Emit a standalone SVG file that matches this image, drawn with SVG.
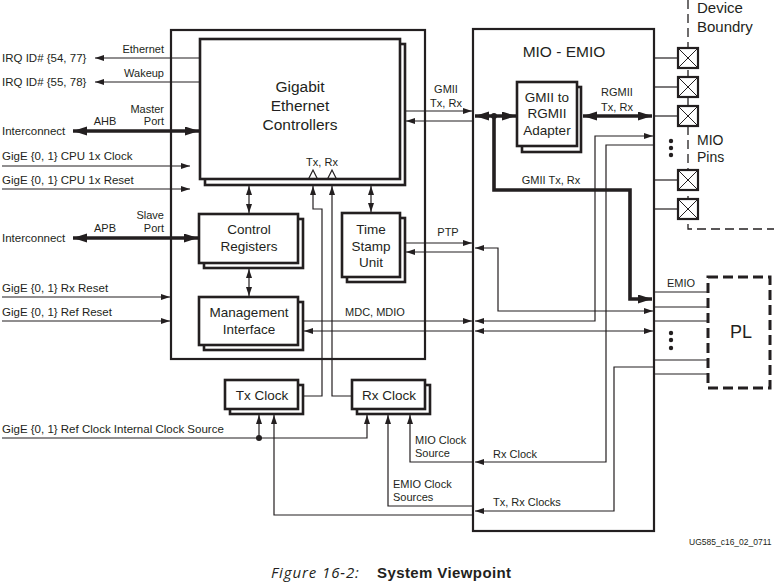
<svg xmlns="http://www.w3.org/2000/svg" width="774" height="584" viewBox="0 0 774 584">
<defs>
<style>
text{font-family:"Liberation Sans",Arial,sans-serif;fill:#231f20}
.s{font-size:11px}
.l{font-size:11.5px}
.b{font-size:13.5px}
.big{font-size:15.5px}
.box{fill:#fff;stroke:#231f20;stroke-width:2.6}
.frame{fill:none;stroke:#231f20;stroke-width:2.2}
.ln{fill:none;stroke:#231f20;stroke-width:1.2}
.thk{fill:none;stroke:#231f20;stroke-width:3.6}
.dash{fill:none;stroke:#231f20;stroke-width:1.3;stroke-dasharray:9 5}
.pl{fill:none;stroke:#231f20;stroke-width:3;stroke-dasharray:10 5}
.pin{fill:#fff;stroke:#231f20;stroke-width:2.2}
.x{stroke:#231f20;stroke-width:1}
.m{text-anchor:middle}
.e{text-anchor:end}
</style>
<marker id="a" markerUnits="userSpaceOnUse" markerWidth="10" markerHeight="7" refX="9" refY="3" orient="auto-start-reverse"><path d="M0,0 L9,3 L0,6 z" fill="#231f20"/></marker>
<marker id="A" markerUnits="userSpaceOnUse" markerWidth="15" markerHeight="10" refX="14" refY="4.5" orient="auto-start-reverse"><path d="M0,0 L14,4.5 L0,9 z" fill="#231f20"/></marker>
</defs>
<rect width="774" height="584" fill="#fff"/>

<g id="gige-frame"><rect class="frame" x="171" y="30" width="254" height="329"/></g>
<g id="mio-emio"><rect class="frame" x="473" y="29" width="181" height="502"/>
<text class="big m" x="564" y="57">MIO - EMIO</text></g>

<g id="device-boundary">
<path class="dash" d="M688,0 V229 H774"/>
<text class="big" x="697" y="13" style="font-size:15px">Device</text>
<text class="big" x="697" y="32" style="font-size:15px">Boundry</text>
</g>

<g id="connectors">
<line class="ln" x1="200" y1="58" x2="95" y2="58" marker-end="url(#a)"/>
<line class="ln" x1="200" y1="82" x2="95" y2="82" marker-end="url(#a)"/>
<line class="thk" x1="73" y1="131" x2="199" y2="131" marker-start="url(#A)" marker-end="url(#A)"/>
<line class="ln" x1="2" y1="166" x2="190" y2="166" marker-end="url(#a)"/>
<line class="ln" x1="2" y1="189" x2="190" y2="189" marker-end="url(#a)"/>
<line class="thk" x1="73" y1="238" x2="198" y2="238" marker-start="url(#A)" marker-end="url(#A)"/>
<line class="ln" x1="2" y1="297" x2="170" y2="297" marker-end="url(#a)"/>
<line class="ln" x1="2" y1="321" x2="170" y2="321" marker-end="url(#a)"/>
<line class="ln" x1="249" y1="186" x2="249" y2="213" marker-start="url(#a)" marker-end="url(#a)"/>
<line class="ln" x1="249" y1="269" x2="249" y2="296" marker-start="url(#a)" marker-end="url(#a)"/>
<line class="ln" x1="371" y1="186" x2="371" y2="212" marker-start="url(#a)" marker-end="url(#a)"/>
<polyline class="ln" points="304,396 322,396 322,209 313,209 313,186" marker-end="url(#a)"/>
<polyline class="ln" points="352,396 332,396 332,186" marker-end="url(#a)"/>
<line class="ln" x1="406" y1="111" x2="472" y2="111" marker-end="url(#a)"/>
<line class="ln" x1="473" y1="121" x2="406" y2="121" marker-end="url(#a)"/>
<line class="ln" x1="406" y1="243" x2="472" y2="243" marker-end="url(#a)"/>
<line class="ln" x1="473" y1="252" x2="406" y2="252" marker-end="url(#a)"/>
<line class="ln" x1="304" y1="321" x2="472" y2="321" marker-end="url(#a)"/>
<line class="ln" x1="473" y1="331" x2="304" y2="331" marker-end="url(#a)"/>
<line class="thk" x1="475" y1="116" x2="516" y2="116" marker-start="url(#A)" marker-end="url(#A)"/>
<polyline class="thk" points="494,116 494,190 630,190 630,299 652,299" marker-end="url(#A)"/>
<circle cx="494" cy="116" r="3" fill="#231f20"/>
<line class="thk" x1="583" y1="116" x2="652" y2="116" marker-start="url(#A)" marker-end="url(#A)"/>
<polyline class="ln" points="475,248 498,248 498,311 653,311" marker-start="url(#a)" marker-end="url(#a)"/>
<polyline class="ln" points="475,321 595,321 595,136 653,136" marker-start="url(#a)" marker-end="url(#a)"/>
<line class="ln" x1="475" y1="331" x2="653" y2="331" marker-start="url(#a)" marker-end="url(#a)"/>
<polyline class="ln" points="654,145 606,145 606,462 475,462" marker-end="url(#a)"/>
<polyline class="ln" points="654,367 614,367 614,511 475,511" marker-end="url(#a)"/>
<line class="ln" x1="654" y1="58" x2="678" y2="58"/>
<line class="ln" x1="654" y1="87" x2="678" y2="87"/>
<line class="ln" x1="654" y1="116" x2="678" y2="116"/>
<line class="ln" x1="654" y1="180" x2="678" y2="180"/>
<line class="ln" x1="654" y1="209" x2="678" y2="209"/>
<line class="ln" x1="654" y1="292" x2="708" y2="292"/>
<line class="ln" x1="654" y1="307" x2="708" y2="307"/>
<line class="ln" x1="654" y1="321" x2="708" y2="321"/>
<line class="ln" x1="654" y1="360" x2="708" y2="360"/>
<line class="ln" x1="654" y1="374" x2="708" y2="374"/>
<polyline class="ln" points="2,438 367,438 367,415" marker-end="url(#a)"/>
<line class="ln" x1="259" y1="438" x2="259" y2="415" marker-end="url(#a)"/>
<circle cx="259" cy="438" r="3" fill="#231f20"/>
<polyline class="ln" points="473,515 274,515 274,415" marker-end="url(#a)"/>
<polyline class="ln" points="473,506 388,506 388,415" marker-end="url(#a)"/>
<polyline class="ln" points="473,462 410,462 410,415" marker-end="url(#a)"/>
</g>

<g id="gec">
<rect class="box" x="205" y="44" width="200" height="141"/>
<rect class="box" x="200" y="39" width="200" height="140"/>
<text class="big m" x="300" y="92">Gigabit</text>
<text class="big m" x="300" y="111">Ethernet</text>
<text class="big m" x="300" y="130">Controllers</text>
<text class="s m" x="322" y="166">Tx, Rx</text>
<polyline class="ln" points="308.5,179 313,170 317.5,179"/>
<polyline class="ln" points="327.5,179 332,170 336.5,179"/>
</g>
<g id="control-registers">
<rect class="box" x="204" y="219" width="99" height="49"/>
<rect class="box" x="199" y="214" width="99" height="49"/>
<text class="b m" x="249" y="234">Control</text>
<text class="b m" x="249" y="251">Registers</text>
</g>
<g id="management-interface">
<rect class="box" x="204" y="302" width="99" height="48"/>
<rect class="box" x="199" y="297" width="99" height="48"/>
<text class="b m" x="249" y="317">Management</text>
<text class="b m" x="249" y="334">Interface</text>
</g>
<g id="time-stamp-unit">
<rect class="box" x="347" y="218" width="58" height="64"/>
<rect class="box" x="342" y="213" width="58" height="64"/>
<text class="b m" x="371" y="234">Time</text>
<text class="b m" x="371" y="251">Stamp</text>
<text class="b m" x="371" y="267">Unit</text>
</g>
<g id="tx-clock">
<rect class="box" x="230" y="385" width="73" height="29"/>
<rect class="box" x="225" y="380" width="73" height="29"/>
<text class="b m" x="262" y="400">Tx Clock</text>
</g>
<g id="rx-clock">
<rect class="box" x="357" y="385" width="73" height="29"/>
<rect class="box" x="352" y="380" width="73" height="29"/>
<text class="b m" x="389" y="400">Rx Clock</text>
</g>
<g id="gmii-rgmii-adapter">
<rect class="box" x="522" y="87" width="59" height="65"/>
<rect class="box" x="517" y="82" width="60" height="64"/>
<text class="b m" x="547" y="102">GMII to</text>
<text class="b m" x="547" y="118">RGMII</text>
<text class="b m" x="547" y="135">Adapter</text>
</g>
<g id="mio-pins">
<g><rect class="pin" x="678" y="48" width="20" height="20"/><path class="x" d="M678,48 L698,68 M698,48 L678,68"/></g>
<g><rect class="pin" x="678" y="77" width="20" height="20"/><path class="x" d="M678,77 L698,97 M698,77 L678,97"/></g>
<g><rect class="pin" x="678" y="106" width="20" height="20"/><path class="x" d="M678,106 L698,126 M698,106 L678,126"/></g>
<g><rect class="pin" x="678" y="170" width="20" height="20"/><path class="x" d="M678,170 L698,190 M698,170 L678,190"/></g>
<g><rect class="pin" x="678" y="199" width="20" height="20"/><path class="x" d="M678,199 L698,219 M698,199 L678,219"/></g>
<circle cx="671" cy="141" r="2.2" fill="#231f20"/><circle cx="671" cy="148" r="2.2" fill="#231f20"/><circle cx="671" cy="155" r="2.2" fill="#231f20"/>
<text x="697" y="145" style="font-size:14px">MIO</text>
<text x="697" y="162" style="font-size:14px">Pins</text>
</g>
<g id="pl">
<rect class="pl" x="708" y="277" width="62" height="111"/>
<text class="m" x="741" y="338" style="font-size:18px">PL</text>
<circle cx="671" cy="333" r="2.2" fill="#231f20"/><circle cx="671" cy="340" r="2.2" fill="#231f20"/><circle cx="671" cy="348" r="2.2" fill="#231f20"/>
<text class="s m" x="681" y="287">EMIO</text>
</g>

<g id="labels">
<text class="s e" x="164" y="53">Ethernet</text>
<text class="s e" x="164" y="77">Wakeup</text>
<text class="s e" x="164" y="113">Master</text>
<text class="s e" x="164" y="125">Port</text>
<text class="s m" x="105" y="125">AHB</text>
<text class="s e" x="164" y="219">Slave</text>
<text class="s e" x="164" y="232">Port</text>
<text class="s m" x="105" y="232">APB</text>
<text class="l" x="2" y="62">IRQ ID# {54, 77}</text>
<text class="l" x="2" y="86">IRQ ID# {55, 78}</text>
<text class="l" x="2" y="135">Interconnect</text>
<text class="l" x="2" y="160">GigE {0, 1} CPU 1x Clock</text>
<text class="l" x="2" y="184">GigE {0, 1} CPU 1x Reset</text>
<text class="l" x="2" y="242">Interconnect</text>
<text class="l" x="2" y="292">GigE {0, 1} Rx Reset</text>
<text class="l" x="2" y="316">GigE {0, 1} Ref Reset</text>
<text class="l" x="2" y="433">GigE {0, 1} Ref Clock Internal Clock Source</text>
<text class="s m" x="446" y="93">GMII</text>
<text class="s m" x="446" y="107">Tx, Rx</text>
<text class="s m" x="448" y="236">PTP</text>
<text class="s m" x="375" y="316">MDC, MDIO</text>
<text class="s m" x="617" y="96">RGMII</text>
<text class="s m" x="617" y="111">Tx, Rx</text>
<text class="s m" x="551" y="184">GMII Tx, Rx</text>
<text class="s" x="415" y="444">MIO Clock</text>
<text class="s" x="415" y="457">Source</text>
<text class="s" x="393" y="488">EMIO Clock</text>
<text class="s" x="393" y="501">Sources</text>
<text class="s" x="493" y="458">Rx Clock</text>
<text class="s" x="493" y="506">Tx, Rx Clocks</text>
<text x="689" y="545" style="font-size:8.5px">UG585_c16_02_0711</text>
<text x="271" y="578" style="font-size:15px;font-style:italic;letter-spacing:0.9px;font-family:'Open Sans','Liberation Sans',sans-serif">Figure 16-2:</text>
<text x="377" y="578" style="font-size:15px;font-weight:bold;letter-spacing:0.4px">System Viewpoint</text>
</g>
</svg>
